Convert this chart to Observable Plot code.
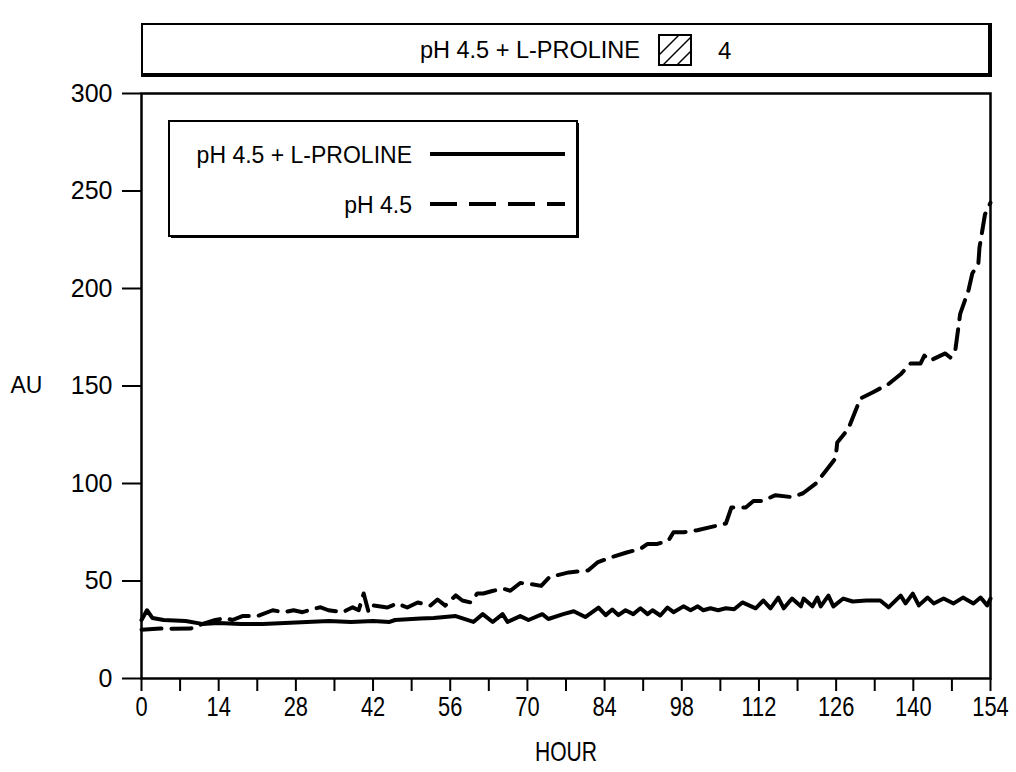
<!DOCTYPE html>
<html><head><meta charset="utf-8">
<script src="https://cdn.jsdelivr.net/npm/d3@7"></script>
<script src="https://cdn.jsdelivr.net/npm/@observablehq/plot@0.6"></script>
<style>
body{margin:0;background:#fff;font-family:"Liberation Sans",Arial,sans-serif;color:#000;}
#wrap{position:relative;width:1016px;height:772px;overflow:hidden;}
#top{height:75px;position:relative;}
#topbox{position:absolute;left:141px;top:23px;width:845px;height:48px;border:2px solid #000;border-right-width:4px;border-bottom-width:4px;background:#fff;}
#legend{position:absolute;left:168px;top:120px;}
</style></head>
<body>
<div id="wrap">
  <div id="top"><div id="topbox"><svg id="topsvg" width="845" height="48"></svg></div></div>
  <div id="chart"></div>
  <svg id="legend" width="412" height="119"></svg>
</div>
<script>
// ---- data ----
const seriesNames = ["pH 4.5 + L-PROLINE", "pH 4.5"];
const prolineHour = [0,1,2,4,8,11,14,18,22,26,30,34,38,42,45,46,50.6,53,57,60.2,61.9,63.7,65.5,66.4,68.7,70.2,72.7,73.8,76.5,78.4,80.5,82.9,84.2,85.4,86.5,87.8,89.2,90.5,91.8,92.7,94.1,95.4,96.5,98.3,99.6,100.9,101.9,103.2,104.6,106,107.5,109,111.4,112.8,114.1,115.5,116.5,118,119.6,120.1,121.7,122.6,123.2,124.6,125.5,127.3,129,131.5,134,135.5,137.7,138.6,139.9,141,142.6,143.7,145.5,147.3,149,150.9,152.2,153.4,154];
const prolineAU   = [30,35,31,30,29.5,28,28.5,28,28,28.5,29,29.5,29,29.5,29,30,30.8,31,32,29,33,29,33,29,32,30,33,30.5,33,34.5,31.5,36.4,32.5,35.4,32.5,35,33,36,33,35,32.3,36.4,34,37,35,37,35,36,35,36,35.5,39,36,40,36,41.5,36,41,37,41,37,41.5,37,42.5,37,41,39.5,40,40,36.5,42.5,38.5,43.5,37.5,41.5,38.5,41,38.5,41.5,38.5,41.5,37.5,41];
const phHour = [0,3.4,5.6,8.9,11.1,13.4,15.2,16.5,18.3,21,23.8,25.8,27.6,29.2,31.6,32.5,33.9,36.5,38.3,39.4,40.3,41.2,42.1,44.6,46.4,48.2,50.1,52.4,53.7,55.1,57,58.2,59.7,60.9,62,63.8,65.7,66.9,68.7,70.6,72.5,74,77.5,81,82.7,85,88,90.5,91.8,93.6,95.6,96.5,98.3,100.8,103.8,106,107,109.6,111,112.6,115,118,120,122.3,124,125.9,126.2,128.2,130.4,132.6,135.5,137.7,139.5,141.3,142,143,145.8,146.7,147.6,148.5,150,150.7,151.8,152,153,154];
const phAU   = [25,25.6,25.5,25.6,28,30,31,30,32,32,35,34,35,34,36,36.5,35,34,36.5,35,43.6,34,37.4,36.4,38.5,36.4,39,37.4,40.5,37.4,42.6,40,39,43.6,43.6,45,46,45,49,48.5,47.5,52,54.4,55.4,59.5,62,64.6,66.5,69,69,70.8,75,75,76,78,79.5,87.7,87.7,91,91,94,93,95,100,106,113,121,128,143.6,146.7,151,156,161.5,161.5,165.6,163,166.7,164.6,168,187,199,207.7,212.8,221,238,244];
const xTicks = d3.range(0, 155, 7);
const xLabelEvery = 14;
const yTicks = [0, 50, 100, 150, 200, 250, 300];
const xTitle = "HOUR";
const yTitle = "AU";
const headerText = "pH 4.5 + L-PROLINE";
const headerNumber = "4";

(function () {
const proline = prolineHour.map((h, i) => ({hour: h, au: prolineAU[i]}));
const ph = phHour.map((h, i) => ({hour: h, au: phAU[i]}));

const FONT = '"Liberation Sans", Arial, sans-serif';
const chart = Plot.plot({
  width: 1016, height: 697,
  marginLeft: 141, marginRight: 26, marginTop: 18, marginBottom: 94,
  x: {domain: [0, 154]},
  y: {domain: [0, 300]},
  style: {fontFamily: FONT, fontSize: "25px", color: "#000", background: "#fff"},
  marks: [
    Plot.axisY({ticks: yTicks, tickSize: 19, tickPadding: 10, label: null, strokeWidth: 2, fontSize: 25}),
    Plot.axisX({ticks: xTicks, tickSize: 13, tickPadding: 5, label: null, strokeWidth: 2, fontSize: 28, className: "xlab",
      tickFormat: d => d % xLabelEvery === 0 ? String(d) : ""}),
    Plot.line(proline, {x: "hour", y: "au", stroke: "#000", strokeWidth: 4, strokeLinejoin: "round"}),
    Plot.line(ph, {x: "hour", y: "au", stroke: "#000", strokeWidth: 4, strokeDasharray: "20,10", strokeLinejoin: "round"}),
    Plot.frame({stroke: "#000", strokeWidth: 2.5}),
    Plot.text([yTitle], {frameAnchor: "left", dx: -115, text: d => d, fontSize: 23, textAnchor: "middle"}),
    Plot.text([xTitle], {frameAnchor: "bottom", dy: 74, text: d => d, fontSize: 27, textAnchor: "middle", lineAnchor: "middle", className: "xtitle"})
  ]
});
document.getElementById("chart").appendChild(chart);
// condensed look of the x-axis texts
d3.select(chart).selectAll("text").each(function () {
  const g = this.closest("g");
  const cls = (g && g.getAttribute("class")) || "";
  const pcls = (g && g.parentNode && g.parentNode.getAttribute && g.parentNode.getAttribute("class")) || "";
  if (/xlab|xtitle/.test(cls + " " + pcls)) {
    const t = this.getAttribute("transform") || "";
    this.setAttribute("transform", t + " scale(0.78,1)");
    const x = this.getAttribute("x");
    if (x != null) this.setAttribute("x", +x / 0.78);
  }
});

// header box
const hdr = d3.select("#topsvg");
hdr.append("text").attr("x", 497).attr("y", 25).attr("text-anchor", "end").attr("dominant-baseline", "central")
  .attr("font-family", FONT).attr("font-size", 23.5).text(headerText);
const hb = hdr.append("g").attr("transform", "translate(516,10)");
hb.append("rect").attr("width", 32).attr("height", 30).attr("fill", "#fff").attr("stroke", "#000").attr("stroke-width", 2);
[[0, 20, 20, 0], [4, 30, 32, 2], [18, 30, 32, 16]].forEach(([x1, y1, x2, y2]) =>
  hb.append("line").attr("x1", x1).attr("y1", y1).attr("x2", x2).attr("y2", y2).attr("stroke", "#000").attr("stroke-width", 1.5));
hdr.append("text").attr("x", 575).attr("y", 25).attr("dominant-baseline", "central")
  .attr("font-family", FONT).attr("font-size", 24).text(headerNumber);

// legend box
const lg = d3.select("#legend");
lg.append("rect").attr("x", 1).attr("y", 1).attr("width", 408).attr("height", 115).attr("fill", "#fff").attr("stroke", "#000").attr("stroke-width", 2);
lg.append("line").attr("x1", 410).attr("y1", 3).attr("x2", 410).attr("y2", 118).attr("stroke", "#000").attr("stroke-width", 2);
lg.append("line").attr("x1", 3).attr("y1", 117).attr("x2", 411).attr("y2", 117).attr("stroke", "#000").attr("stroke-width", 2);
const rows = [{name: seriesNames[0], dash: null, y: 35}, {name: seriesNames[1], dash: "27,12", y: 85}];
rows.forEach(r => {
  lg.append("text").attr("x", 244).attr("y", r.y).attr("text-anchor", "end").attr("dominant-baseline", "central")
    .attr("font-family", FONT).attr("font-size", 23).text(r.name);
  lg.append("line").attr("x1", 262).attr("x2", 397).attr("y1", r.y - 1).attr("y2", r.y - 1)
    .attr("stroke", "#000").attr("stroke-width", 4).attr("stroke-dasharray", r.dash);
});
})();
</script>
</body></html>
